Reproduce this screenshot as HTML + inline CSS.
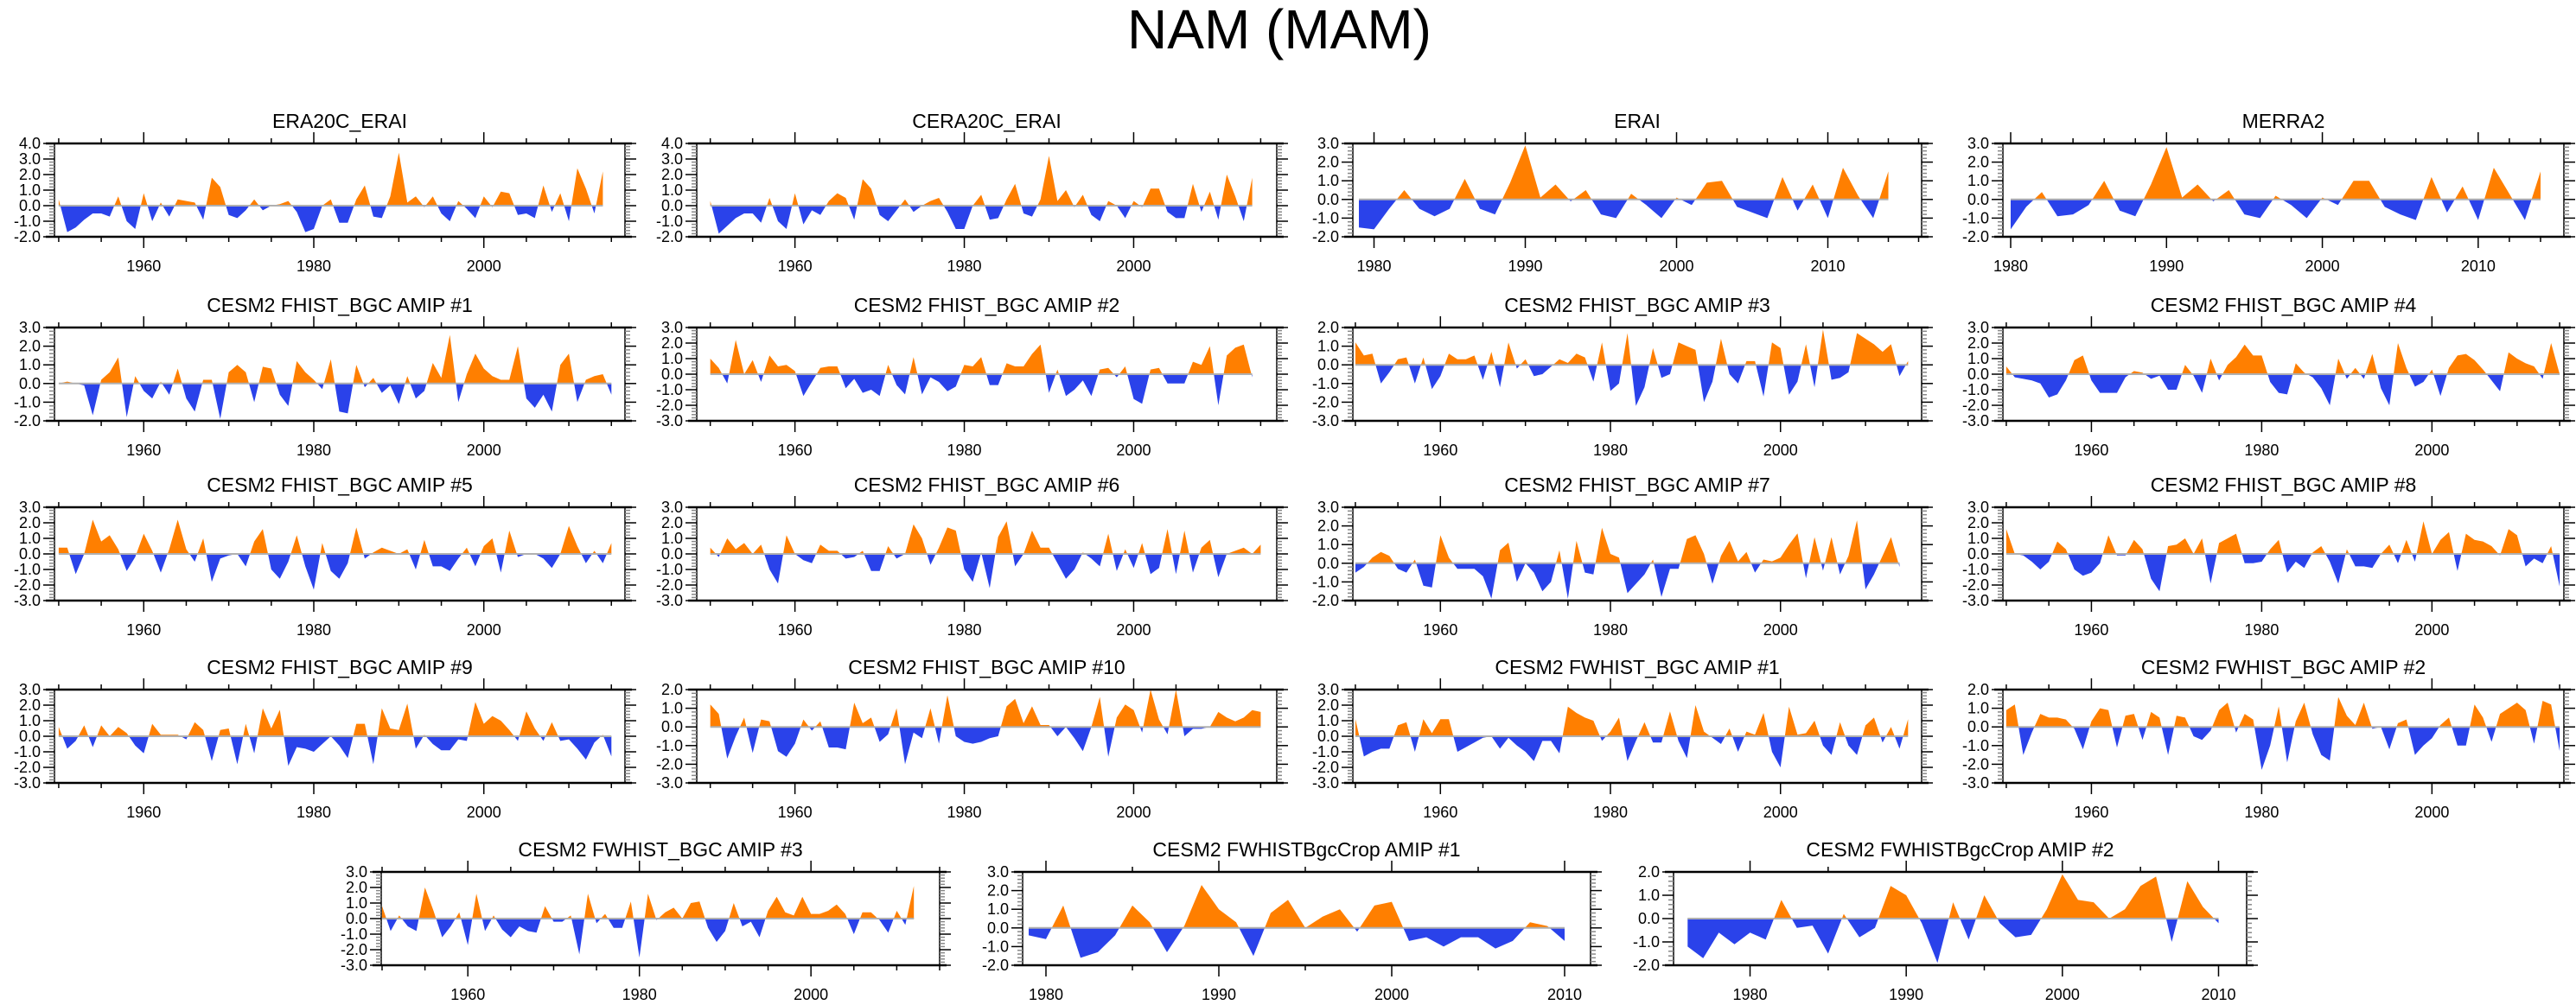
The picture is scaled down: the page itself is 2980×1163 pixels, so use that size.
<!DOCTYPE html>
<html><head><meta charset="utf-8"><style>
html,body{margin:0;padding:0;background:#fff;}
svg{display:block;font-family:"Liberation Sans",sans-serif;}
</style></head><body>
<svg id="fig" width="2980" height="1163" viewBox="0 0 2980 1163" xmlns="http://www.w3.org/2000/svg">
<text x="1480" y="56" text-anchor="middle" font-size="64">NAM (MAM)</text>
</svg>
<script>
// ---- data (annual NAM index values) ----
const titles = ["ERA20C_ERAI","CERA20C_ERAI","ERAI","MERRA2",
"CESM2 FHIST_BGC AMIP #1","CESM2 FHIST_BGC AMIP #2","CESM2 FHIST_BGC AMIP #3","CESM2 FHIST_BGC AMIP #4",
"CESM2 FHIST_BGC AMIP #5","CESM2 FHIST_BGC AMIP #6","CESM2 FHIST_BGC AMIP #7","CESM2 FHIST_BGC AMIP #8",
"CESM2 FHIST_BGC AMIP #9","CESM2 FHIST_BGC AMIP #10","CESM2 FWHIST_BGC AMIP #1","CESM2 FWHIST_BGC AMIP #2",
"CESM2 FWHIST_BGC AMIP #3","CESM2 FWHISTBgcCrop AMIP #1","CESM2 FWHISTBgcCrop AMIP #2"];
const startYears = [1950,1950,1979,1980, 1950,1950,1950,1950, 1950,1950,1950,1950, 1950,1950,1950,1950, 1950,1979,1976];
const yMin = [-2,-2,-2,-2, -2,-3,-3,-3, -3,-3,-2,-3, -3,-3,-3,-3, -3,-2,-2];
const yMax = [4,4,3,3, 3,3,2,3, 3,3,3,3, 3,2,3,2, 3,3,2];
const xTickYears = [[1960,1980,2000],[1960,1980,2000],[1980,1990,2000,2010],[1980,1990,2000,2010]];
const s0 = [0.4,-1.7,-1.4,-0.9,-0.5,-0.5,-0.7,0.6,-1.0,-1.5,0.8,-1.0,0.2,-0.7,0.4,0.3,0.2,-0.9,1.8,1.2,-0.6,-0.8,-0.3,0.4,-0.3,0.0,0.1,0.3,-0.4,-1.7,-1.5,0.0,0.4,-1.1,-1.1,0.4,1.3,-0.7,-0.8,0.6,3.4,0.2,0.6,-0.1,0.6,-0.5,-1.0,0.3,-0.2,-0.8,0.6,-0.1,0.9,0.8,-0.6,-0.5,-0.8,1.3,-0.4,0.8,-1.0,2.4,1.1,-0.5,2.2];
const s1 = [0.3,-1.8,-1.3,-0.8,-0.5,-0.5,-1.1,0.5,-1.0,-1.5,0.8,-1.2,-0.3,-0.6,0.3,0.8,0.5,-0.9,1.7,1.1,-0.6,-1.0,-0.3,0.4,-0.4,0.0,0.3,0.5,-0.4,-1.5,-1.5,0.0,0.7,-0.9,-0.8,0.4,1.4,-0.5,-0.7,0.4,3.2,0.3,1.0,-0.1,0.7,-0.6,-1.0,0.3,0.0,-0.8,0.3,-0.1,1.1,1.1,-0.4,-0.8,-0.8,1.4,-0.4,0.9,-0.9,2.0,0.6,-1.0,1.8];
const s2 = [-1.5,-1.6,-0.5,0.5,-0.5,-0.9,-0.5,1.1,-0.5,-0.8,0.9,2.9,0.1,0.8,-0.1,0.5,-0.8,-1.0,0.3,-0.3,-1.0,0.1,-0.3,0.9,1.0,-0.4,-0.7,-1.0,1.2,-0.6,0.8,-1.0,1.7,0.2,-1.0,1.5];
const s3 = [-1.6,-0.4,0.4,-0.9,-0.8,-0.3,1.0,-0.6,-0.9,0.8,2.8,0.1,0.8,-0.1,0.5,-0.8,-1.0,0.2,-0.3,-1.0,0.1,-0.3,1.0,1.0,-0.4,-0.8,-1.1,1.2,-0.7,0.7,-1.1,1.7,0.3,-1.1,1.5];
const s4 = [0.0,0.1,0.0,-0.1,-1.7,0.2,0.6,1.4,-1.8,0.4,-0.4,-0.8,0.1,-0.6,0.8,-0.8,-1.5,0.2,0.2,-1.9,0.6,1.0,0.6,-1.0,0.9,0.8,-0.6,-1.2,1.2,0.6,0.2,-0.3,1.3,-1.5,-1.6,1.0,-0.2,0.3,-0.5,-0.1,-1.1,0.4,-0.8,-0.4,1.1,0.3,2.6,-1.0,0.5,1.6,0.8,0.4,0.2,0.2,2.0,-0.8,-1.3,-0.6,-1.5,1.0,1.6,-1.0,0.2,0.4,0.5,-0.6];
const s5 = [1.0,0.4,-0.6,2.2,0.0,0.9,-0.5,1.2,0.5,0.6,0.2,-1.4,-0.5,0.4,0.5,0.5,-0.9,-0.3,-1.2,-1.0,-1.4,0.6,-0.7,-1.3,1.1,-1.3,-0.2,-0.5,-1.1,-0.8,0.6,0.5,1.1,-0.7,-0.7,0.7,0.5,0.5,1.3,1.9,-1.2,0.3,-1.4,-1.0,-0.4,-1.4,0.3,0.4,-0.2,0.5,-1.6,-1.9,0.3,0.4,-0.6,-0.6,-0.6,0.8,0.6,1.8,-2.0,1.2,1.7,1.9,-0.2];
const s6 = [1.2,0.5,0.6,-1.0,-0.4,0.3,0.4,-1.0,0.4,-1.3,-0.6,0.6,0.3,0.3,0.5,-0.8,0.7,-1.2,1.2,-0.2,0.3,-0.6,-0.5,-0.1,0.3,0.1,0.6,0.4,-0.9,1.2,-1.4,-1.0,1.7,-2.2,-1.2,0.9,-0.7,-0.5,1.2,1.0,0.8,-2.0,-0.9,1.4,-0.5,-1.0,0.2,0.2,-1.7,1.2,0.9,-1.6,-0.9,1.1,-1.2,1.9,-0.8,-0.7,-0.4,1.7,1.4,1.1,0.7,1.1,-0.6,0.2];
const s7 = [0.5,-0.2,-0.3,-0.4,-0.6,-1.5,-1.3,-0.4,0.9,1.2,-0.4,-1.2,-1.2,-1.2,-0.2,0.2,0.1,-0.3,-0.1,-1.0,-1.0,0.6,-0.1,-1.2,1.0,-0.4,0.6,1.1,1.9,1.2,1.2,-0.5,-1.2,-1.3,0.7,0.1,-0.2,-0.9,-2.0,1.0,-0.3,0.4,-0.3,1.3,-0.9,-2.0,2.0,0.4,-0.8,-0.5,0.3,-1.4,0.4,1.2,1.3,0.9,0.3,-0.4,-1.1,1.4,1.0,0.7,0.5,-0.3,2.0,0.0];
const s8 = [0.4,0.4,-1.3,0.0,2.2,0.8,1.2,0.3,-1.1,-0.2,1.3,0.2,-1.2,0.3,2.2,0.3,-0.5,1.0,-1.8,-0.3,-0.1,0.0,-0.8,0.8,1.6,-1.0,-1.6,-0.5,1.2,-0.8,-2.3,0.7,-1.1,-1.6,-0.6,1.7,-0.3,0.1,0.4,0.2,0.0,0.3,-1.0,0.9,-0.8,-0.8,-1.1,-0.3,0.4,-0.8,0.5,1.0,-1.2,1.5,-0.2,0.0,0.0,-0.3,-0.9,0.0,1.8,0.5,-0.6,0.2,-0.6,0.7];
const s9 = [0.4,-0.2,1.0,0.3,0.7,0.0,0.6,-1.0,-1.9,1.2,0.0,-0.4,-0.6,0.6,0.2,0.2,-0.3,-0.2,0.2,-1.1,-1.1,0.5,-0.3,0.0,1.9,1.0,-0.7,0.4,1.7,1.5,-1.0,-1.8,0.1,-2.2,1.1,2.1,-0.8,0.0,1.5,0.4,0.4,-0.6,-1.6,-1.0,0.1,-0.3,-0.8,1.3,-1.1,0.3,-0.9,0.7,-1.3,-0.9,1.6,-1.3,1.5,-1.2,0.4,0.9,-1.5,0.0,0.2,0.4,0.0,0.6];
const s10 = [-0.5,-0.2,0.3,0.6,0.4,-0.3,-0.5,0.2,-1.2,-1.3,1.5,0.3,-0.3,-0.3,-0.3,-0.7,-1.9,0.7,1.1,-1.0,0.0,-0.5,-1.5,-1.0,0.7,-1.9,1.2,-0.5,-0.6,1.9,0.5,0.3,-1.6,-1.1,-0.6,0.2,-1.8,-0.3,-0.3,1.3,1.5,0.5,-1.1,0.4,1.2,0.1,0.6,-0.5,0.2,0.1,0.3,1.0,1.6,-0.8,1.4,-0.4,1.4,-0.6,0.4,2.3,-1.4,-0.6,0.4,1.4,-0.2];
const s11 = [1.6,0.0,-0.1,-0.5,-1.0,-0.5,0.8,0.3,-1.0,-1.4,-1.2,-0.6,1.2,-0.1,-0.1,0.9,0.3,-1.6,-2.4,0.5,0.6,1.0,0.0,1.0,-1.9,0.7,1.0,1.3,-0.6,-0.6,-0.5,0.3,0.9,-1.2,-0.5,-0.9,0.1,0.5,-0.5,-1.9,0.3,-0.8,-0.8,-0.9,0.0,0.6,-0.6,0.9,-0.5,2.1,0.0,0.9,1.4,-1.1,1.3,0.9,0.8,0.5,-0.1,1.6,1.2,-0.8,-0.3,-0.6,0.5,-2.1];
const s12 = [0.6,-0.8,-0.3,0.7,-0.7,0.7,0.0,0.6,0.2,-0.6,-1.1,0.8,0.1,0.1,0.1,-0.2,0.9,0.4,-1.6,0.4,0.5,-1.8,0.8,-1.1,1.8,0.5,1.7,-1.9,-0.7,-0.8,-1.0,-0.5,0.0,-0.6,-1.4,0.8,0.8,-1.8,1.8,0.5,0.4,2.1,-0.8,0.1,-0.5,-0.9,-0.9,-0.2,-0.3,2.2,0.8,1.3,1.0,0.4,-0.3,1.6,0.5,-0.3,0.9,-0.3,-0.2,-0.8,-1.5,-0.4,0.1,-1.3];
const s13 = [1.2,0.7,-1.7,-0.5,0.5,-1.4,0.4,0.3,-1.3,-1.6,-0.9,0.4,-0.2,0.3,-1.1,-1.1,-1.2,1.3,0.2,0.5,-0.8,-0.4,1.0,-2.0,-0.3,-0.6,1.0,-0.9,1.7,-0.5,-0.8,-0.9,-0.8,-0.6,-0.5,1.1,1.5,0.2,1.1,0.1,0.1,-0.5,0.0,-0.6,-1.3,0.0,1.6,-1.6,0.5,1.2,0.9,-0.3,2.0,0.4,-0.4,2.0,-0.5,-0.1,-0.1,0.0,0.8,0.5,0.3,0.5,0.9,0.8];
const s14 = [1.1,-1.3,-1.0,-0.8,-0.8,0.7,0.9,-1.0,1.1,0.2,1.1,1.1,-1.0,-0.7,-0.4,-0.1,0.0,-0.8,-0.1,-0.6,-1.0,-1.6,-0.3,-0.3,-1.1,1.9,1.5,1.2,1.0,-0.3,0.3,1.2,-1.6,-0.3,0.9,-0.4,-0.4,1.6,-0.3,-1.4,2.0,0.3,-0.1,-0.5,0.5,-1.0,0.3,0.1,1.5,-1.0,-2.0,1.9,0.1,0.2,1.0,-0.6,-1.2,0.9,-0.6,-1.2,0.7,1.2,-0.4,0.6,-0.8,1.1];
const s15 = [0.9,1.2,-1.5,-0.3,0.7,0.5,0.5,0.4,-0.1,-1.2,0.3,1.0,0.9,-1.1,0.6,0.7,-0.7,0.8,0.5,-1.5,0.6,0.5,-0.5,-0.7,-0.2,0.9,1.3,-0.3,0.7,0.4,-2.3,-1.0,1.1,-1.9,0.3,1.3,-0.4,-1.5,-1.8,1.6,0.6,0.1,1.3,-0.1,0.0,-1.2,0.2,0.4,-1.5,-1.0,-0.6,0.1,0.5,-1.0,-1.0,1.2,0.5,-0.8,0.7,1.0,1.3,0.9,-0.9,1.4,1.2,-1.3];
const s16 = [0.8,-0.8,0.2,-0.5,-0.8,2.0,0.5,-1.2,-0.5,0.4,-1.7,1.6,-0.8,0.2,-0.7,-1.2,-0.5,-0.8,-0.9,0.8,-0.2,-0.2,0.2,-2.3,1.6,-0.3,0.3,-0.6,-0.6,1.1,-2.5,1.6,-0.1,0.4,0.7,0.0,1.0,1.1,-0.6,-1.5,-0.8,1.0,-0.5,-0.2,-1.2,0.5,1.4,0.4,0.2,1.4,0.3,0.3,0.5,0.9,0.3,-1.0,0.4,0.4,-0.1,-0.9,0.5,-0.4,2.1];
const s17 = [-0.4,-0.6,1.2,-1.6,-1.3,-0.4,1.2,0.3,-1.3,0.1,2.3,1.0,0.3,-1.5,0.8,1.5,0.0,0.6,1.0,-0.2,1.2,1.4,-0.7,-0.5,-1.0,-0.5,-0.5,-1.1,-0.7,0.3,0.1,-0.7];
const s18 = [-1.2,-1.7,-0.6,-1.1,-0.6,-0.9,0.8,-0.4,-0.3,-1.5,0.2,-0.8,-0.4,1.4,1.0,-0.2,-1.9,0.7,-0.9,1.0,-0.2,-0.8,-0.7,0.4,1.9,0.8,0.7,0.0,0.4,1.4,1.8,-1.0,1.6,0.5,-0.2];
const series = [s0,s1,s2,s3,s4,s5,s6,s7,s8,s9,s10,s11,s12,s13,s14,s15,s16,s17,s18];

// ---- layout (not data) ----
const rowTop = [166,379,587,798,1009];
const plotH = 108;
const cols = [[63,723,1949.5,2016.6],[806,1477,1948.4,2016.9],[1565,2223,1949.7,2016.6],[2317,2966,1949.6,2015.5]];
const layout = [];
for (let i=0;i<16;i++){
  const r=Math.floor(i/4), c=i%4;
  let L=cols[c].slice();
  if(i===2) L=[1565,2223,1978.6,2016.2];
  if(i===3) L=[2317,2966,1979.5,2015.5];
  layout.push({x0:L[0],x1:L[1],ya:L[2],yb:L[3],top:rowTop[r]});
}
layout.push({x0:441,x1:1087,ya:1949.9,yb:2015.0,top:1009});
layout.push({x0:1183,x1:1840,ya:1978.65,yb:2011.5,top:1009});
layout.push({x0:1936,x1:2599,ya:1975.1,yb:2011.8,top:1009});

const NS="http://www.w3.org/2000/svg";
const svg=document.getElementById('fig');
function mk(tag,attrs,parent){const e=document.createElementNS(NS,tag);for(const k in attrs)e.setAttribute(k,attrs[k]);(parent||svg).appendChild(e);return e;}

series.forEach((vals,i)=>{
  const P=layout[i], y0=P.top, y1=P.top+plotH;
  const lo=yMin[i], hi=yMax[i], sy=startYears[i];
  const xs=yr=>P.x0+(yr-P.ya)/(P.yb-P.ya)*(P.x1-P.x0);
  const ys=v=>y1-(v-lo)/(hi-lo)*plotH;
  const g=mk('g',{});
  
  
  const t=mk('text',{x:(P.x0+P.x1)/2,y:y0-18,'text-anchor':'middle','font-size':23},g);
  
  
  t.textContent=titles[i];
  const zy=ys(0);
  // clip paths
  const cu=mk('clipPath',{id:'cu'+i},g); mk('rect',{x:P.x0,y:y0,width:P.x1-P.x0,height:zy-y0},cu);
  const cd=mk('clipPath',{id:'cd'+i},g); mk('rect',{x:P.x0,y:zy,width:P.x1-P.x0,height:y1-zy},cd);
  let d='M'+xs(sy).toFixed(1)+','+zy.toFixed(1);
  vals.forEach((v,k)=>{d+=' L'+xs(sy+k).toFixed(1)+','+ys(v).toFixed(1);});
  d+=' L'+xs(sy+vals.length-1).toFixed(1)+','+zy.toFixed(1)+' Z';
  const pu=mk('path',{d:d,fill:'#ff7f00','clip-path':'url(#cu'+i+')'},g);
  
  
  const pd=mk('path',{d:d,fill:'#2a42ea','clip-path':'url(#cd'+i+')'},g);
  
  
  const zl=mk('line',{x1:xs(sy),x2:xs(sy+vals.length-1),y1:zy,y2:zy,stroke:'#b0b0b0','stroke-width':2},g);
  
  
  // frame
  mk('rect',{x:P.x0,y:y0,width:P.x1-P.x0,height:plotH,fill:'none',stroke:'#000','stroke-width':1.5},g);
  mk('line',{x1:P.x0-10,x2:P.x1+8,y1:y0,y2:y0,stroke:'#000','stroke-width':2.5},g);
  mk('line',{x1:P.x0-10,x2:P.x1+8,y1:y1,y2:y1,stroke:'#000','stroke-width':2.5},g);
  // y ticks
  for(let v=lo; v<=hi+1e-9; v+=0.2){
    const yy=ys(v); const major=Math.abs(v-Math.round(v))<1e-6;
    mk('line',{x1:P.x0-(major?13:6),x2:P.x0,y1:yy,y2:yy,stroke:major?'#000':'#888','stroke-width':1.5},g);
    mk('line',{x1:P.x1,x2:P.x1+(major?13:6),y1:yy,y2:yy,stroke:major?'#000':'#888','stroke-width':1.5},g);
    if(major){
      const yl=mk('text',{x:P.x0-16,y:yy+6,'text-anchor':'end','font-size':18},g);
      
      
      yl.textContent=Math.round(v).toFixed(1);
    }
  }
  // x ticks
  const ticks = (sy===1950)?[1960,1980,2000]:[1980,1990,2000,2010];
  const minorStep = (sy===1950)?5:(i>=17?5:2);
  for(let yr=Math.ceil(P.ya/minorStep)*minorStep; yr<=P.yb; yr+=minorStep){
    const xx=xs(yr); const major=ticks.includes(yr);
    mk('line',{x1:xx,x2:xx,y1:y0,y2:y0-(major?13:6),stroke:'#000','stroke-width':1.5},g);
    mk('line',{x1:xx,x2:xx,y1:y1,y2:y1+(major?13:6),stroke:'#000','stroke-width':1.5},g);
  }
  ticks.forEach(yr=>{
    const xl=mk('text',{x:xs(yr),y:y1+40,'text-anchor':'middle','font-size':18},g);
    
    
    xl.textContent=yr;
  });
});
</script>
</body></html>
